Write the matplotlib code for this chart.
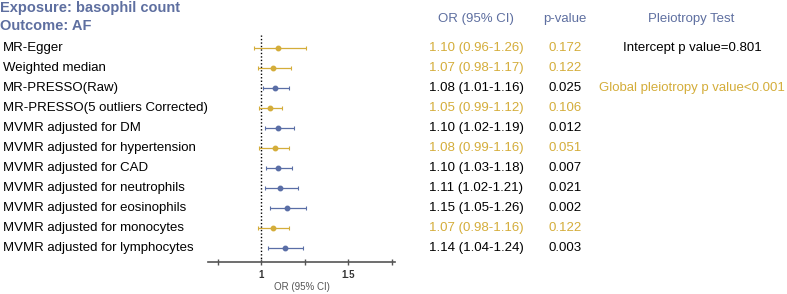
import matplotlib
matplotlib.use("Agg")
import matplotlib.pyplot as plt
from matplotlib.transforms import blended_transform_factory

plt.rcParams['font.family'] = ['Liberation Sans', 'DejaVu Sans']

# data
labels = ["MR-Egger", "Weighted median", "MR-PRESSO(Raw)",
          "MR-PRESSO(5 outliers Corrected)", "MVMR adjusted for DM",
          "MVMR adjusted for hypertension", "MVMR adjusted for CAD",
          "MVMR adjusted for neutrophils", "MVMR adjusted for eosinophils",
          "MVMR adjusted for monocytes", "MVMR adjusted for lymphocytes"]
odds = [1.10, 1.07, 1.08, 1.05, 1.10, 1.08, 1.10, 1.11, 1.15, 1.07, 1.14]
ci_low = [0.96, 0.98, 1.01, 0.99, 1.02, 0.99, 1.03, 1.02, 1.05, 0.98, 1.04]
ci_high = [1.26, 1.17, 1.16, 1.12, 1.19, 1.16, 1.18, 1.21, 1.26, 1.16, 1.24]
pvals = ["0.172", "0.122", "0.025", "0.106", "0.012", "0.051",
         "0.007", "0.021", "0.002", "0.122", "0.003"]
pleio_rows = [0, 2]
pleio_text = ["Intercept p value=0.801", "Global pleiotropy p value<0.001"]
pleio_colors = ["black", "gold"]

GOLD = "#d4ad3a"
BLUE = "#5a6ea6"
HEAD = "#5e6fa0"

W, H = 787, 294
fig = plt.figure(figsize=(W / 100, H / 100), dpi=100)

# forest axes placed in pixel region
x0, x1 = 208, 395
ytop, ybot = 35, 262
ax = fig.add_axes([x0 / W, (H - ybot) / H, (x1 - x0) / W, (ybot - ytop) / H])
ax.set_xlim(0.695, 1.77)
ax.set_ylim(10.7, -0.65)

for i in range(len(labels)):
    sig = float(pvals[i]) < 0.05
    c = BLUE if sig else GOLD
    ax.errorbar(odds[i], i,
                xerr=[[odds[i] - ci_low[i]], [ci_high[i] - odds[i]]],
                fmt="o", color=c, ms=3.2, elinewidth=0.9, capsize=1.5,
                capthick=0.8)

ax.axvline(1, color="black", ls=(0, (1, 1.5)), lw=1.0, zorder=0)

for s in ["top", "right", "left"]:
    ax.spines[s].set_visible(False)
ax.spines["bottom"].set_color("#555555")
ax.spines["bottom"].set_linewidth(1.2)
ax.set_yticks([])
ax.set_xticks([0.75, 1, 1.25, 1.5, 1.75])
ax.set_xticklabels(["", "1", "", "1.5", ""], fontsize=7, fontweight="bold",
                   color="#333333")
ax.tick_params(axis="x", direction="inout", length=4, width=1,
               color="#555555", pad=4)
ax.set_xlabel("OR (95% CI)", fontsize=7, color="#555555", labelpad=1.5)

tr = blended_transform_factory(fig.transFigure, ax.transData)

for i, lab in enumerate(labels):
    sig = float(pvals[i]) < 0.05
    tc = "black" if sig else GOLD
    ax.text(3 / W, i, lab, transform=tr, fontsize=9.5, va="center",
            ha="left", color="black")
    ax.text(476 / W, i, "%.2f (%.2f-%.2f)" % (odds[i], ci_low[i], ci_high[i]),
            transform=tr, fontsize=9.5, va="center", ha="center", color=tc)
    ax.text(565 / W, i, pvals[i], transform=tr, fontsize=9.5, va="center",
            ha="center", color=tc)

for r, t, c in zip(pleio_rows, pleio_text, pleio_colors):
    ax.text(692 / W, r, t, transform=tr, fontsize=9.5, va="center",
            ha="center", color="black" if c == "black" else GOLD)

# headers
fig.text(0, 1 - 8 / H, "Exposure: basophil count", fontsize=10.5,
         fontweight="bold", color=HEAD, va="center", ha="left")
fig.text(0, 1 - 26 / H, "Outcome: AF", fontsize=10.5,
         fontweight="bold", color=HEAD, va="center", ha="left")
fig.text(476 / W, 1 - 19 / H, "OR (95% CI)", fontsize=9.5, color=HEAD,
         va="center", ha="center")
fig.text(565 / W, 1 - 19 / H, "p-value", fontsize=9.5, color=HEAD,
         va="center", ha="center")
fig.text(691 / W, 1 - 19 / H, "Pleiotropy Test", fontsize=9.5, color=HEAD,
         va="center", ha="center")

fig.savefig("out.png", dpi=100)
